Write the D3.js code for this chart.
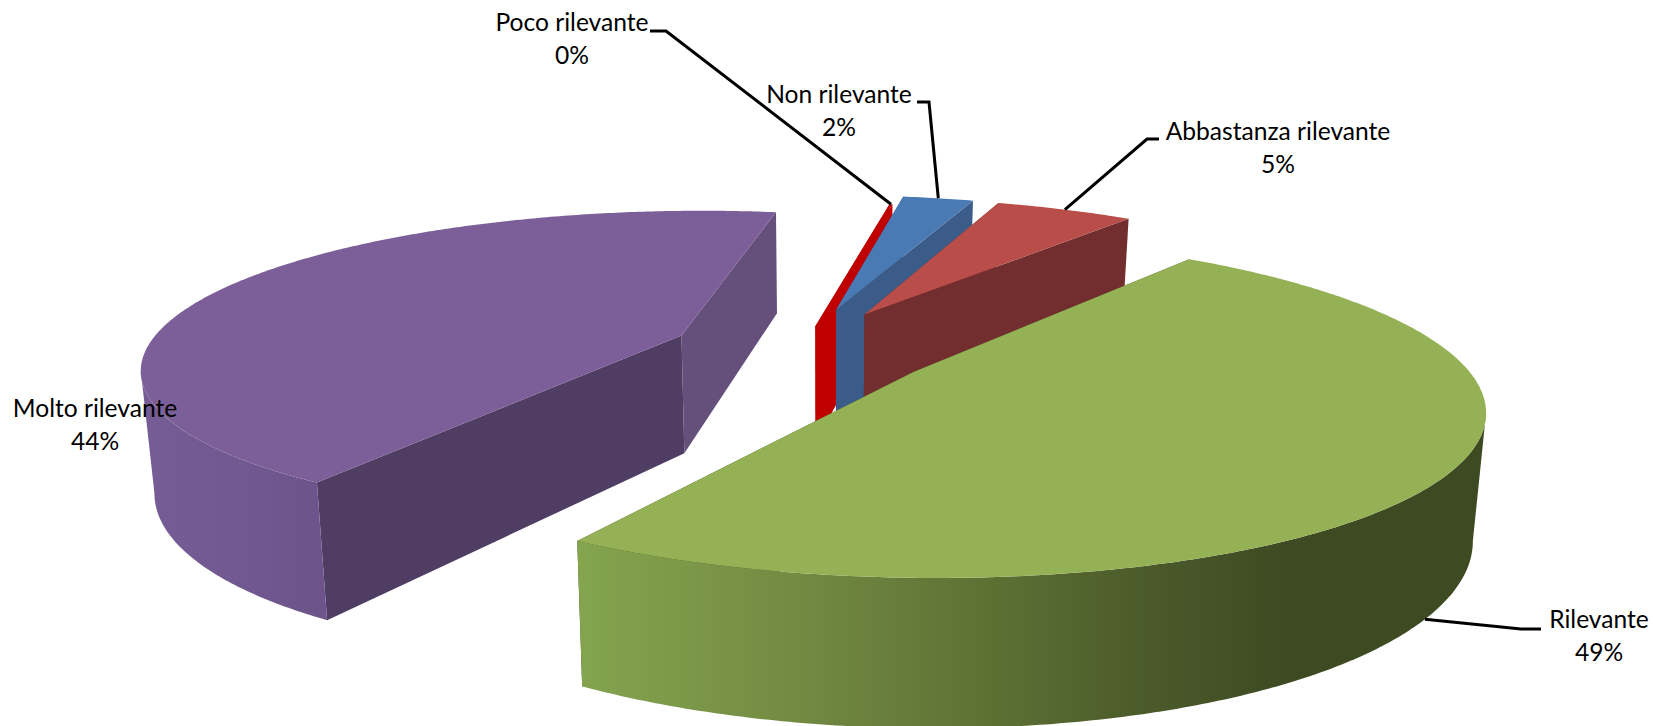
<!DOCTYPE html>
<html><head><meta charset="utf-8">
<script src="https://cdn.jsdelivr.net/npm/d3@7"></script>
<style>html,body{margin:0;padding:0;background:#fff;overflow:hidden}svg{display:block}text{font-family:Lato,"Open Sans",sans-serif;font-size:24.6px;fill:#000}</style>
</head><body><svg id="c" width="1653" height="726"></svg>
<script>
// data
const categories = ["Poco rilevante","Non rilevante","Abbastanza rilevante","Rilevante","Molto rilevante"];
const values = [0.47,2.4,4.9,48.6,43.8];
const pctLabels = ["0%","2%","5%","49%","44%"];

// style / layout
const explode = [0.16,0.24,0.24,0.24,0.233];
const radius  = [1,1,1,1,0.985];
const shiftV  = [0,0,0,0,-0.012];
const startTweak = [0.3,-1.5,-0.6,0,1.2];   // degrees, rendering fit
const endTweak   = [-1,-0.9,-0.2,-0.4,0];
const apexNudge  = [[0,0],[0.004,-0.04],[0.0075,-0.027],[0.0055,0],[-0.004,0]];
const topCol  = ["#c00000","#4a7ab3","#b84d49","#95b155","#7c5f98"];
const wallCol = ["#c00000","#3b5c88","#722e2e","url(#gGreen)","url(#gPurple)"];
const startFaceCol = ["#c00000","#3b5c88","#722e2e","#3e4a22","#4f3d63"];
const endFaceCol   = ["#c00000","#3b5c88","#722e2e","#3e4a22","#654f7b"];
const drawOrder = [4,0,1,2,3];
const labelPos = [[572,23],[839,95],[1278,132],[1599,620],[95,409]];
const leaderPos = [[[650,31],[666,31]],[[917,102],[929,102]],[[1159,139],[1147,139]],[[1541,629],[1521,629]],null];
const leaderOnBase = [false,false,false,true,false];
const leaderShiftDeg = [0,0,0,1.5,0];

// projection of the pie plane (perspective homography)
const P = {ox:800,oy:350,A:545,B:-18,C:5,D:156,p:0.195,q:0.005};
function project(u,v){
  const w = 1 - P.p*v - P.q*u;
  return [P.ox + (P.A*u+P.B*v)/w, P.oy + (P.C*u+P.D*v)/w];
}
const base = ([x,y]) => [825 + 0.98*(x-825), 1.135*y + 72.4];

const start = 7.7*Math.PI/180;
const rad = Math.PI/180;
const arcs = d3.pie().sort(null).startAngle(start).endAngle(start+2*Math.PI)(values);

const svg = d3.select("#c");
const defs = svg.append("defs");
function grad(id,stops){
  const g = defs.append("linearGradient").attr("id",id).attr("gradientUnits","userSpaceOnUse")
    .attr("x1",stops[0][0]).attr("x2",stops[stops.length-1][0]).attr("y1",0).attr("y2",0);
  const x0=stops[0][0], x1=stops[stops.length-1][0];
  stops.forEach(s=>g.append("stop").attr("offset",(s[0]-x0)/(x1-x0)).attr("stop-color",s[1]));
}
grad("gGreen",[[580,"#84a44e"],[800,"#728a42"],[1000,"#5c6f33"],[1150,"#4a5a2a"],[1290,"#3e4a22"],[1490,"#3e4a22"]]);
grad("gPurple",[[150,"#755c95"],[330,"#6c548b"]]);

const line = d3.line();
function rim(d,i,a){
  const m=(d.startAngle+d.endAngle)/2, e=explode[i], r=radius[i];
  return project(e*Math.sin(m)+r*Math.sin(a), -e*Math.cos(m)+shiftV[i]-r*Math.cos(a));
}
function apex(d,i){
  const m=(d.startAngle+d.endAngle)/2, e=explode[i];
  return project(e*Math.sin(m)+apexNudge[i][0], -e*Math.cos(m)+shiftV[i]+apexNudge[i][1]);
}
function rimPts(d,i){
  const a0=d.startAngle+startTweak[i]*rad, a1=d.endAngle+endTweak[i]*rad;
  const n=Math.max(2,Math.ceil((a1-a0)/0.01));
  return d3.range(n+1).map(k=>rim(d,i,a0+(a1-a0)*k/n));
}
drawOrder.forEach(i=>{
  const d=arcs[i], pts=rimPts(d,i), c=apex(d,i), g=svg.append("g");
  const s=pts[0], t=pts[pts.length-1];
  g.append("path").attr("d",line([c,s,base(s),base(c)])+"Z").attr("fill",startFaceCol[i]);
  g.append("path").attr("d",line([c,t,base(t),base(c)])+"Z").attr("fill",endFaceCol[i]);
  // outer wall: the stretch of rim turned toward the viewer
  const front=d3.range(pts.length-1).filter(k=>pts[k+1][0]<pts[k][0]);
  if(front.length){
    const arc=pts.slice(front[0],front[front.length-1]+2);
    g.append("path").attr("d",line(arc.concat(arc.map(base).reverse()))+"Z").attr("fill",wallCol[i]);
  }
  g.append("path").attr("d",line([c].concat(pts))+"Z").attr("fill",topCol[i]);
});
// leaders
leaderPos.forEach((l,i)=>{
  if(!l) return;
  const d=arcs[i], m=(d.startAngle+d.endAngle)/2+(startTweak[i]+endTweak[i])/2*rad+leaderShiftDeg[i]*rad;
  let end=rim(d,i,m); if(leaderOnBase[i]) end=base(end);
  svg.append("path").attr("d",line([l[0],l[1],end])).attr("fill","none").attr("stroke","#000").attr("stroke-width",3);
});
// labels
categories.forEach((c,i)=>{
  const [x,y]=labelPos[i];
  svg.append("text").attr("x",x).attr("y",y+8).attr("text-anchor","middle").text(c);
  svg.append("text").attr("x",x).attr("y",y+41).attr("text-anchor","middle").text(pctLabels[i]);
});
</script></body></html>
